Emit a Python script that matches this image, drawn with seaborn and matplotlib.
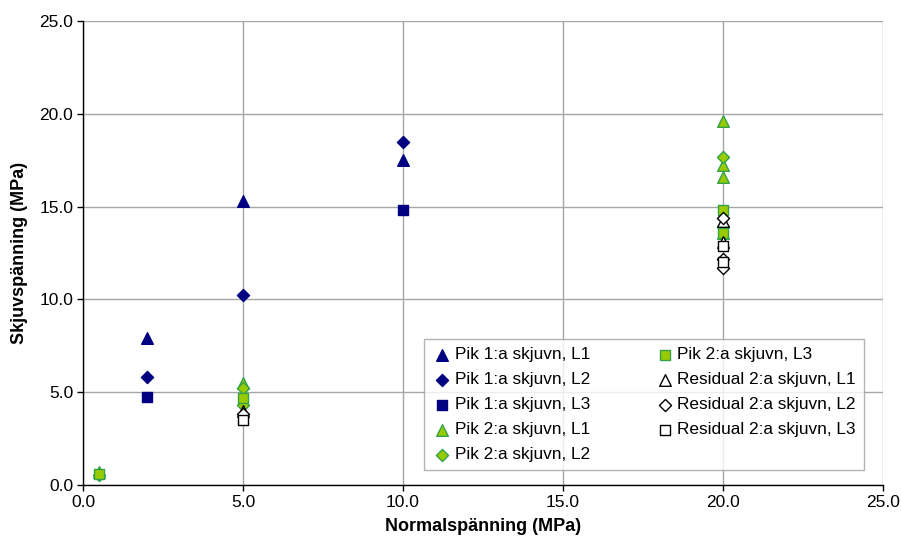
import matplotlib
matplotlib.use("Agg")
import matplotlib.pyplot as plt
import seaborn as sns
import pandas as pd

# Normal stress (MPa) and shear stress (MPa) for each test series
pik1_l1_x = [2, 5, 10]
pik1_l1_y = [7.9, 15.3, 17.5]
pik1_l2_x = [2, 5, 10]
pik1_l2_y = [5.8, 10.25, 18.5]
pik1_l3_x = [2, 10]
pik1_l3_y = [4.75, 14.8]

pik2_l1_x = [0.5, 5, 20, 20, 20, 20]
pik2_l1_y = [0.7, 5.5, 19.6, 17.25, 16.6, 13.6]
pik2_l2_x = [0.5, 5, 5, 20, 20]
pik2_l2_y = [0.55, 5.2, 4.3, 17.65, 13.9]
pik2_l3_x = [0.5, 5, 20, 20]
pik2_l3_y = [0.6, 4.7, 14.8, 13.6]

res_l1_x = [5, 20, 20]
res_l1_y = [4.0, 13.1, 14.2]
res_l2_x = [5, 20, 20, 20]
res_l2_y = [3.8, 14.4, 12.2, 11.7]
res_l3_x = [5, 20, 20]
res_l3_y = [3.5, 12.9, 12.0]

labels = [
    "Pik 1:a skjuvn, L1", "Pik 1:a skjuvn, L2", "Pik 1:a skjuvn, L3",
    "Pik 2:a skjuvn, L1", "Pik 2:a skjuvn, L2", "Pik 2:a skjuvn, L3",
    "Residual 2:a skjuvn, L1", "Residual 2:a skjuvn, L2", "Residual 2:a skjuvn, L3",
]
xs = [pik1_l1_x, pik1_l2_x, pik1_l3_x, pik2_l1_x, pik2_l2_x, pik2_l3_x,
      res_l1_x, res_l2_x, res_l3_x]
ys = [pik1_l1_y, pik1_l2_y, pik1_l3_y, pik2_l1_y, pik2_l2_y, pik2_l3_y,
      res_l1_y, res_l2_y, res_l3_y]

navy = "#000080"
lime = "#99CC00"
lime_edge = "#33A04A"
styles = [
    dict(marker="^", color=navy, edgecolor=navy, s=70),
    dict(marker="D", color=navy, edgecolor=navy, s=38),
    dict(marker="s", color=navy, edgecolor=navy, s=60),
    dict(marker="^", color=lime, edgecolor=lime_edge, s=70),
    dict(marker="D", color=lime, edgecolor=lime_edge, s=38),
    dict(marker="s", color=lime, edgecolor=lime_edge, s=60),
    dict(marker="^", color="white", edgecolor="black", s=70),
    dict(marker="D", color="white", edgecolor="black", s=38),
    dict(marker="s", color="white", edgecolor="black", s=60),
]

sns.set_style("white")
plt.rcParams["font.family"] = ["Liberation Sans", "DejaVu Sans"]
plt.rcParams["text.color"] = "black"
plt.rcParams["axes.labelcolor"] = "black"
plt.rcParams["xtick.color"] = "black"
plt.rcParams["ytick.color"] = "black"

fig = plt.figure(figsize=(9.01, 5.47), dpi=100)
ax = fig.add_axes([83 / 901, 1 - 485 / 547, 800 / 901, 464 / 547])

for lab, x, y, st in zip(labels, xs, ys, styles):
    df = pd.DataFrame({"x": x, "y": y})
    sns.scatterplot(data=df, x="x", y="y", ax=ax, label=lab,
                    marker=st["marker"], color=st["color"],
                    edgecolor=st["edgecolor"], s=st["s"], linewidth=1.0,
                    zorder=3)

ax.set_xlim(0, 25)
ax.set_ylim(0, 25)
ticks = [0, 5, 10, 15, 20, 25]
ax.set_xticks(ticks)
ax.set_yticks(ticks)
ax.set_xticklabels([f"{t:.1f}" for t in ticks], fontsize=12.5)
ax.set_yticklabels([f"{t:.1f}" for t in ticks], fontsize=12.5)
ax.tick_params(axis="both", direction="out", length=4, width=1, color="black",
               labelcolor="black", bottom=True, left=True, pad=3)
ax.grid(True, color="#A6A6A6", linewidth=1.0, zorder=0)
ax.set_axisbelow(True)
for side in ["top", "right"]:
    ax.spines[side].set_visible(False)
for side in ["left", "bottom"]:
    ax.spines[side].set_color("black")
    ax.spines[side].set_linewidth(1.0)

ax.set_xlabel("Normalspänning (MPa)", fontsize=13, fontweight="bold",
              labelpad=6, color="black")
ax.set_ylabel("Skjuvspänning (MPa)", fontsize=13, fontweight="bold",
              labelpad=8, color="black")

leg = ax.legend(ncol=2, loc="lower left", bbox_to_anchor=(0.426, 0.032, 0.55, 0.274),
                mode="expand", fontsize=12.4, frameon=True, fancybox=False,
                edgecolor="#A0A0A0", handletextpad=0.15, handlelength=1.2,
                labelspacing=0.58, borderaxespad=0, columnspacing=1.8,
                borderpad=0.45)
leg.get_frame().set_linewidth(1.0)
for t in leg.get_texts():
    t.set_color("black")

fig.savefig("out.png", dpi=100, facecolor="white")
